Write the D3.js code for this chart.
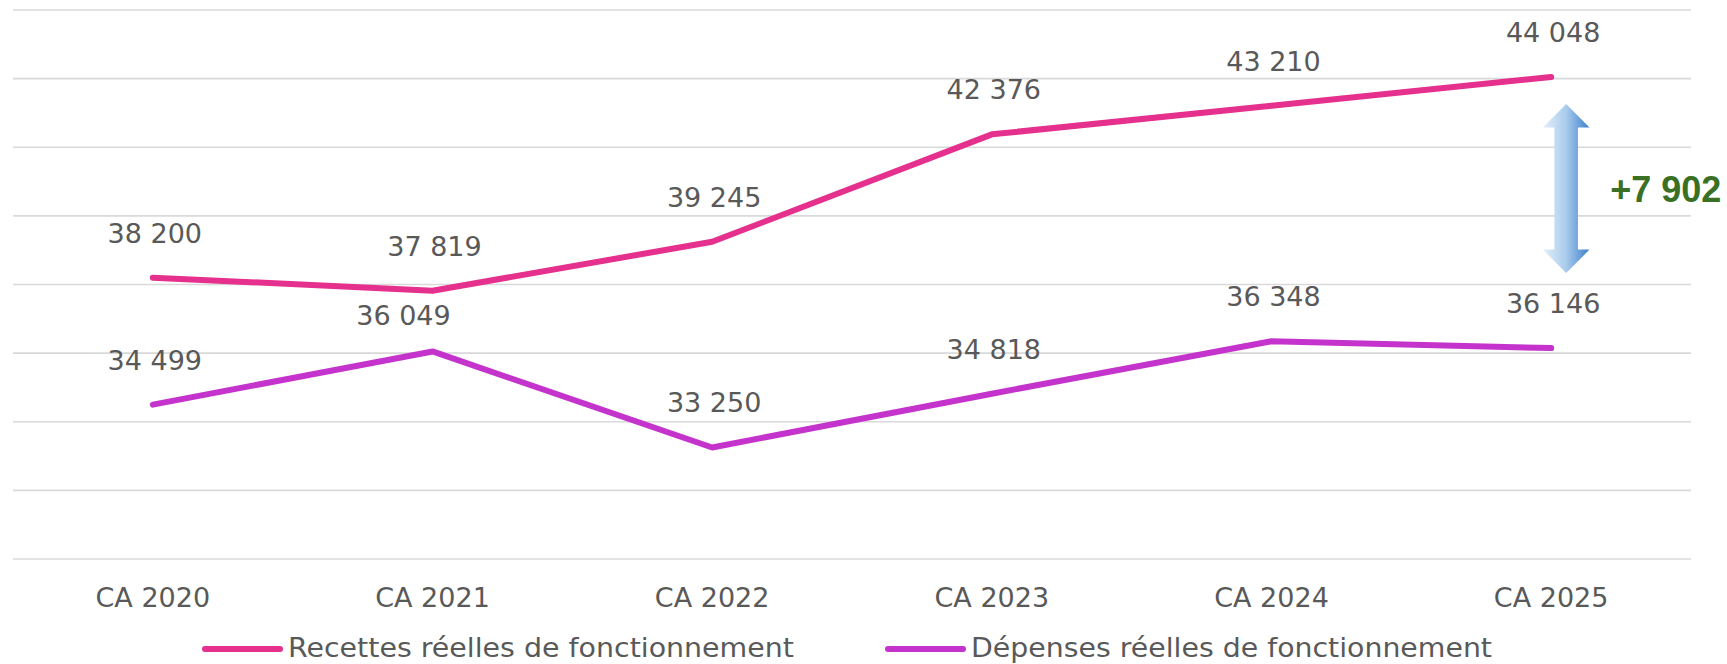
<!DOCTYPE html>
<html><head><meta charset="utf-8">
<script src="https://cdn.jsdelivr.net/npm/d3@7"></script>
<style>html,body{margin:0;padding:0;background:#fff;}svg{display:block;}</style>
</head><body>
<svg id="chart" width="1727" height="664"></svg>
<script>
const categories = ["CA 2020","CA 2021","CA 2022","CA 2023","CA 2024","CA 2025"];
const recettes = [38200, 37819, 39245, 42376, 43210, 44048];
const depenses = [34499, 36049, 33250, 34818, 36348, 36146];
const seriesNames = ["Recettes réelles de fonctionnement","Dépenses réelles de fonctionnement"];
const yTicks = [30000,32000,34000,36000,38000,40000,42000,44000,46000];

(function(){
const colors = ["#e5308d", "#c434cc"];
const svg = d3.select("#chart");
const mLeft = 13, mRight = 1691, mTop = 10, mBottom = 559;

const x = d3.scaleBand().domain(categories).range([mLeft, mRight]);
const xc = c => x(c) + x.bandwidth()/2;
const y = d3.scaleLinear().domain([30000, 46000]).range([mBottom, mTop]);

const fr = d3.formatLocale({decimal:",", thousands:" ", grouping:[3], currency:["",""]});
const fmt = fr.format(",d");

// gridlines
svg.append("g").selectAll("line").data(yTicks).join("line")
  .attr("x1", mLeft).attr("x2", mRight)
  .attr("y1", d => y(d)).attr("y2", d => y(d))
  .attr("stroke", "#d9d9d9").attr("stroke-width", 1.6);

// x axis labels
const xAxis = d3.axisBottom(x).tickSize(0).tickPadding(0);
const gx = svg.append("g").attr("transform", `translate(0,${mBottom})`).call(xAxis);
gx.select(".domain").remove();
gx.selectAll("text")
  .attr("y", 48).attr("dy", 0)
  .attr("font-family", "DejaVu Sans").attr("font-size", 27).attr("fill", "#595959");

const series = [recettes, depenses];
const line = d3.line().x((d,i) => xc(categories[i])).y(d => y(d));
series.forEach((s, k) => {
  svg.append("path").datum(s).attr("d", line)
    .attr("fill", "none").attr("stroke", colors[k]).attr("stroke-width", 6)
    .attr("stroke-linejoin", "round").attr("stroke-linecap", "round");
});

// data labels
const nudge = {"1-1": [-31, 9]}; // label moved by the original layout to avoid overlap
series.forEach((s, k) => {
  svg.append("g").selectAll("text").data(s).join("text")
    .attr("x", (d,i) => xc(categories[i]) + 2 + ((nudge[k+"-"+i]||[0,0])[0]))
    .attr("y", (d,i) => y(d) - 35 + ((nudge[k+"-"+i]||[0,0])[1]))
    .attr("text-anchor", "middle")
    .attr("font-family", "DejaVu Sans").attr("font-size", 27).attr("fill", "#595959")
    .text(d => fmt(d));
});

// difference arrow
const last = categories.length - 1;
const diff = recettes[last] - depenses[last];
const ax = xc(categories[last]) + 15;
const aTop = y(recettes[last]) + 27, aBot = y(depenses[last]) - 75;
const hw = 23.3, sw = 11.8, hh = 23.5;
const defs = svg.append("defs");
const grad = defs.append("linearGradient").attr("id", "ag")
  .attr("x1", 0).attr("x2", 1).attr("y1", 0).attr("y2", 0);
grad.append("stop").attr("offset", "0%").attr("stop-color", "#e4f0fa");
grad.append("stop").attr("offset", "50%").attr("stop-color", "#a9cbec");
grad.append("stop").attr("offset", "100%").attr("stop-color", "#3c7fcd");
const ap = d3.path();
ap.moveTo(ax, aTop);
ap.lineTo(ax + hw, aTop + hh);
ap.lineTo(ax + sw, aTop + hh);
ap.lineTo(ax + sw, aBot - hh);
ap.lineTo(ax + hw, aBot - hh);
ap.lineTo(ax, aBot);
ap.lineTo(ax - hw, aBot - hh);
ap.lineTo(ax - sw, aBot - hh);
ap.lineTo(ax - sw, aTop + hh);
ap.lineTo(ax - hw, aTop + hh);
ap.closePath();
svg.append("path").attr("d", ap.toString()).attr("fill", "url(#ag)");

svg.append("text")
  .attr("x", ax + 44).attr("y", (aTop + aBot)/2 + 13)
  .attr("font-family", "Liberation Sans, Arial, sans-serif").attr("font-weight", "bold")
  .attr("font-size", 36).attr("fill", "#3a7024")
  .text("+" + fmt(diff));

// legend
const legX = [205, 888];
const legW = [506, 521];
seriesNames.forEach((n, k) => {
  const g = svg.append("g").attr("transform", `translate(${legX[k]},649)`);
  g.append("line").attr("x1", 0).attr("x2", 75).attr("y1", 0).attr("y2", 0)
    .attr("stroke", colors[k]).attr("stroke-width", 6).attr("stroke-linecap", "round");
  g.append("text").attr("x", 83).attr("y", 8)
    .attr("font-family", "DejaVu Sans").attr("font-size", 26).attr("fill", "#595959")
    .attr("textLength", legW[k]).attr("lengthAdjust", "spacingAndGlyphs")
    .text(n);
});
})();
</script>
</body></html>
